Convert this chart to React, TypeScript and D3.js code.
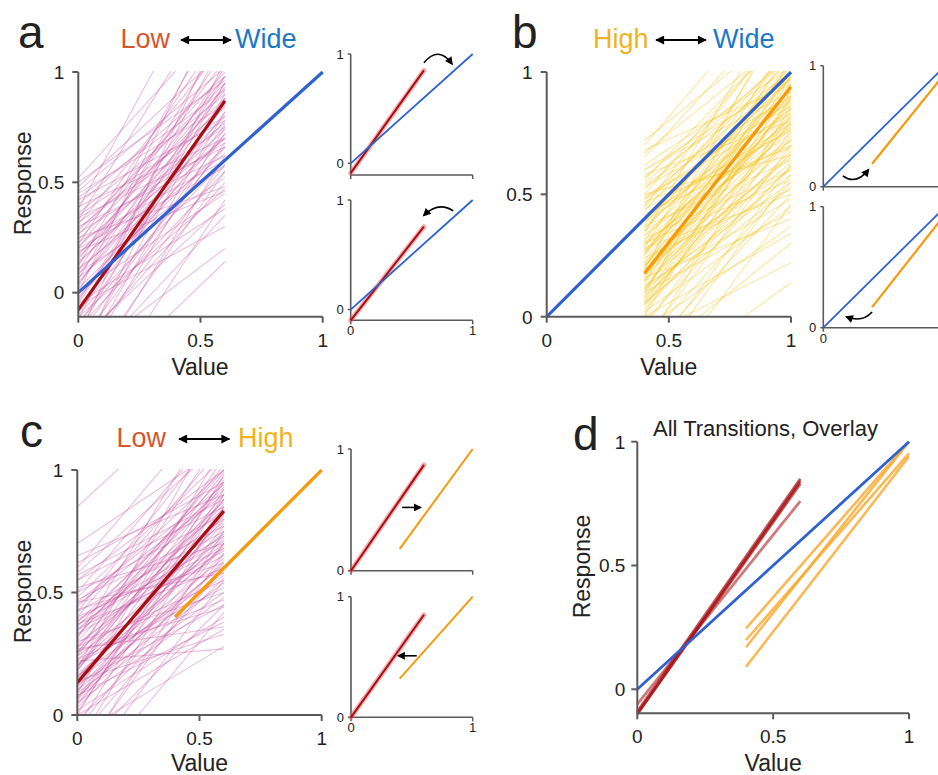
import React from "react";
import * as d3 from "d3";

type Seg = [number, number];

// ---------- data ----------
const MAIN_TICKS = [0, 0.5, 1];
const INSET_TICKS = [0, 1];
const LOW_RANGE: Seg = [0, 0.6];
const HIGH_RANGE: Seg = [0.4, 1];
const WIDE_RANGE: Seg = [0, 1];

// individual fits (y at range start, y at range end)
const lowLinesA: Seg[] = [
  [-0.05, 0.95], [0.10, 1.10], [0.52, 1.25], [0.30, 0.62], [-0.20, 0.72], [0.05, 0.78], [0.15, 0.98], [-0.10, 0.60],
  [0.22, 1.20], [-0.30, 1.05], [0.40, 0.98], [0.00, 0.45], [-0.15, 0.88], [0.18, 0.70], [0.33, 1.40], [-0.25, 0.50],
  [0.08, 0.92], [0.45, 0.85], [-0.05, 0.38], [0.12, 1.30], [0.28, 0.95], [-0.18, 0.95], [0.02, 0.66], [0.35, 0.80],
  [-0.12, 1.15], [0.20, 0.57], [0.48, 1.10], [-0.35, 0.75], [-0.50, 0.14], [-0.30, 0.20], [0.25, 0.48], [-0.08, 0.82],
  [0.14, 0.74], [-0.22, 0.40], [0.38, 1.60], [0.03, 1.02], [-0.40, 0.55], [0.16, 0.86], [0.27, 0.68], [-0.02, 0.72],
  [0.09, 0.52], [-0.28, 0.90], [0.43, 0.92], [0.20, 1.05], [-0.06, 0.30], [0.32, 0.75], [-0.14, 0.66], [0.06, 1.18],
  [0.24, 0.88], [-0.45, 0.62], [0.11, 0.63], [0.36, 0.90], [-0.03, 0.85], [0.19, 0.46], [-0.32, 0.82], [0.42, 0.78],
  [0.00, 1.35], [0.26, 1.00], [-0.16, 0.55], [0.13, 0.80], [0.50, 0.96], [-0.60, 0.42], [0.07, 0.58], [0.31, 1.12],
  [-0.09, 0.76], [0.17, 0.93], [-0.24, 0.68], [0.39, 0.70], [0.04, 0.88], [-0.20, 1.25], [0.23, 0.60], [-0.11, 0.47],
  [0.29, 0.84], [-0.36, 0.35], [0.10, 0.70], [0.46, 1.02], [-0.04, 0.98], [0.21, 0.77], [-0.27, 0.58], [0.34, 0.66],
];

const highLinesB: Seg[] = [
  [0.18, 0.94], [0.35, 1.10], [0.05, 0.80], [0.50, 1.20], [-0.10, 0.70], [0.25, 0.98], [0.70, 1.40], [0.10, 1.05], [0.40, 0.85], [0.20, 1.15],
  [-0.20, 0.62], [0.30, 0.75], [0.55, 1.00], [0.12, 0.55], [0.65, 1.30], [0.15, 0.88], [0.00, 0.95], [0.45, 0.92], [0.28, 1.25], [0.08, 0.68],
  [0.60, 0.97], [0.02, 0.45], [0.38, 1.02], [0.22, 0.72], [-0.15, 0.50], [0.48, 0.88], [0.14, 1.00], [0.67, 1.15], [0.32, 0.60], [0.06, 0.90],
  [0.52, 1.08], [0.17, 0.65], [-0.25, 0.58], [0.36, 0.93], [0.24, 0.52], [0.04, 0.82], [0.58, 0.80], [0.19, 1.30], [0.42, 0.70], [-0.05, 0.37],
  [0.11, 0.92], [0.29, 0.81], [0.46, 1.05], [0.07, 0.73], [0.62, 1.02], [0.21, 0.60], [-0.12, 0.86], [0.33, 0.90], [0.16, 0.40], [0.44, 0.76],
  [0.09, 1.12], [0.26, 0.84], [0.56, 1.18], [0.18, 0.70], [-0.02, 0.62], [0.39, 0.98], [0.27, 0.78], [0.50, 0.66], [0.01, 0.99], [0.34, 1.35],
  [0.13, 0.48], [0.53, 0.86], [0.23, 0.96], [-0.30, 0.14], [0.41, 0.79], [0.10, 0.43], [0.31, 1.04], [0.68, 0.95], [0.17, 0.87], [0.47, 0.69],
  [0.03, 0.67], [0.37, 0.89], [-0.08, 0.22], [0.57, 1.06], [0.12, 0.79], [-0.04, 0.76], [0.30, 0.56], [0.20, 1.00], [0.49, 0.83], [0.14, 0.63],
  [0.27, 0.91], [0.72, 1.20], [0.06, 0.53], [0.40, 0.97], [0.18, 0.74], [-0.35, 0.46], [0.30, 0.85], [0.45, 1.22], [0.11, 0.58], [0.35, 0.72],
  [0.22, 0.82], [0.60, 0.92], [0.00, 0.34], [0.26, 1.03], [0.15, 0.66], [0.39, 0.77], [0.48, 0.99], [0.08, 0.89], [0.28, 0.50], [0.21, 0.77],
  [-0.18, 0.30], [0.43, 1.10], [0.16, 0.95], [0.54, 0.90], [0.05, 0.61], [0.33, 0.79], [0.25, 1.08], [-0.10, 0.55], [0.37, 0.64], [0.19, 0.83],
];

const lowLinesC: Seg[] = [
  [0.13, 0.83], [0.30, 0.95], [0.05, 0.70], [0.40, 1.10], [-0.10, 0.60], [0.22, 0.88], [0.50, 1.20], [0.00, 0.98], [0.35, 0.65], [0.18, 1.05],
  [-0.20, 0.75], [0.28, 0.55], [0.45, 0.90], [0.08, 0.50], [0.60, 1.30], [0.15, 0.72], [-0.05, 0.90], [0.38, 0.80], [0.25, 1.15], [0.10, 0.62],
  [0.55, 0.85], [0.02, 0.40], [0.32, 1.00], [0.20, 0.68], [-0.15, 0.45], [0.42, 0.75], [0.12, 0.95], [0.85, 1.40], [0.27, 0.36], [0.06, 0.82],
  [0.48, 1.05], [0.16, 0.58], [-0.25, 0.55], [0.34, 0.92], [0.23, 0.47], [0.04, 0.77], [0.52, 0.70], [0.19, 1.25], [0.37, 0.60], [-0.08, 0.28],
  [0.11, 0.88], [0.29, 0.74], [0.44, 1.00], [0.07, 0.66], [0.62, 0.95], [0.21, 0.52], [-0.12, 0.85], [0.33, 0.87], [0.14, 0.33], [0.40, 0.68],
  [0.09, 1.10], [0.26, 0.79], [0.58, 1.12], [0.17, 0.64], [-0.02, 0.56], [0.36, 0.97], [0.24, 0.70], [0.46, 0.58], [0.01, 0.92], [0.31, 1.30],
  [0.13, 0.45], [0.50, 0.82], [0.20, 0.90], [-0.18, 0.66], [0.39, 0.73], [0.08, 0.38], [0.27, 1.02], [0.65, 0.90], [0.15, 0.80], [0.43, 0.62],
  [0.03, 0.63], [0.35, 0.84], [0.22, 0.27], [0.55, 1.00], [0.10, 0.75], [-0.06, 0.70], [0.30, 0.50], [0.18, 0.96], [0.47, 0.77], [0.12, 0.57],
  [0.25, 0.86], [0.70, 1.10], [0.05, 0.48], [0.38, 0.93], [0.16, 0.69], [-0.30, 0.42], [0.28, 0.81], [0.42, 1.18], [0.09, 0.54], [0.33, 0.67],
  [0.20, 0.78], [0.57, 0.88], [0.00, 0.35], [0.24, 0.99], [0.14, 0.61], [0.37, 0.71], [0.46, 0.94], [0.07, 0.85], [0.26, 0.44], [0.19, 0.73],
];

// average fits
const lowMeanA: Seg = [-0.078, 0.869];
const highMeanB: Seg = [0.177, 0.94];
const lowMeanC: Seg = [0.132, 0.833];
const wideFit: Seg = [0, 1];
const highFitC: Seg = [0.4, 1.0];

// inset fits
const insetA = { top: { low: [-0.09, 0.85] as Seg }, bottom: { low: [-0.098, 0.756] as Seg } };
const insetB = { top: { high: [0.19, 0.94] as Seg }, bottom: { high: [0.17, 0.94] as Seg } };
const insetC = {
  top: { low: [0.0, 0.87] as Seg, high: [0.18, 1.0] as Seg },
  bottom: { low: [0.0, 0.85] as Seg, high: [0.32, 1.0] as Seg },
};

// overlay (panel d)
const overlayLow: Seg[] = [[-0.10, 0.84], [-0.09, 0.85], [-0.06, 0.76], [-0.10, 0.83]];
const overlayLowAlpha = [0.7, 0.7, 0.55, 0.7];
const overlayHigh: Seg[] = [[0.246, 1.0], [0.199, 0.953], [0.17, 1.0], [0.091, 0.94]];

// ---------- styles ----------
const FONT = "'Liberation Sans', Arial, Helvetica, sans-serif";
const C_BLUE = "#2f62cf";
const C_RED = "#a50f12";
const C_ORANGE = "#f59a0c";
const C_PINK = "#c4479f";
const C_YELLOW = "#f4c41c";
const C_AXIS = "#5a5a5a";
const C_LOWTXT = "#d9552b";
const C_WIDETXT = "#1b78c6";
const C_HIGHTXT = "#efb321";
const PAGE_W = 938;

type Box = { xl: number; xr: number; yt: number; yb: number; ymin: number };

function scales(b: Box) {
  const x = d3.scaleLinear().domain([0, 1]).range([b.xl, b.xr]);
  const y = d3.scaleLinear().domain([b.ymin, 1]).range([b.yb, b.yt]);
  return { x, y };
}

function Seg2({ sx, sy, range, seg, ...rest }: any) {
  return <line x1={sx(range[0])} y1={sy(seg[0])} x2={sx(range[1])} y2={sy(seg[1])} {...rest} />;
}

function MainAxes({ b, ticks, fontSize = 19, yOff = 14 }: { b: Box; ticks: number[]; fontSize?: number; yOff?: number }) {
  const { x, y } = scales(b);
  return (
    <g fill="#222" fontFamily={FONT} fontSize={fontSize}>
      <line x1={b.xl} y1={b.yt} x2={b.xl} y2={b.yb} stroke={C_AXIS} strokeWidth={2} />
      <line x1={b.xl} y1={b.yb} x2={b.xr} y2={b.yb} stroke={C_AXIS} strokeWidth={2} />
      {ticks.map((t) => (
        <g key={"y" + t}>
          <line x1={b.xl - 6} x2={b.xl} y1={y(t)} y2={y(t)} stroke={C_AXIS} strokeWidth={2} />
          <text x={b.xl - yOff} y={y(t)} dy="0.36em" textAnchor="end">{d3.format("~g")(t)}</text>
        </g>
      ))}
      {ticks.map((t) => (
        <g key={"x" + t}>
          <line x1={x(t)} x2={x(t)} y1={b.yb} y2={b.yb + 6} stroke={C_AXIS} strokeWidth={2} />
          <text x={x(t)} y={b.yb + 30} textAnchor="middle">{d3.format("~g")(t)}</text>
        </g>
      ))}
    </g>
  );
}

function InsetAxes({ b, showX }: { b: Box; showX: boolean }) {
  const { x, y } = scales(b);
  return (
    <g fill="#222" fontFamily={FONT} fontSize={13}>
      <line x1={b.xl} y1={b.yt} x2={b.xl} y2={b.yb} stroke={C_AXIS} strokeWidth={1.6} />
      <line x1={b.xl} y1={b.yb} x2={b.xr} y2={b.yb} stroke={C_AXIS} strokeWidth={1.6} />
      {INSET_TICKS.map((t) => (
        <g key={"y" + t}>
          <line x1={b.xl - 3} x2={b.xl} y1={y(t)} y2={y(t)} stroke={C_AXIS} strokeWidth={1.5} />
          <text x={b.xl - 7} y={y(t)} dy="0.36em" textAnchor="end">{t}</text>
        </g>
      ))}
      {INSET_TICKS.map((t) => (
        <g key={"x" + t}>
          <line x1={x(t)} x2={x(t)} y1={b.yb} y2={b.yb + 4} stroke={C_AXIS} strokeWidth={1.5} />
          {showX && x(t) < PAGE_W - 4 && <text x={x(t)} y={b.yb + 15} textAnchor="middle">{t}</text>}
        </g>
      ))}
    </g>
  );
}

function Title({ x, y, parts }: { x: number[]; y: number; parts: { text: string; color: string }[] }) {
  return (
    <g fontFamily={FONT} fontSize={27}>
      <text x={x[0]} y={y} fill={parts[0].color}>{parts[0].text}</text>
      <line x1={x[1]} x2={x[2]} y1={y - 8} y2={y - 8} stroke="#000" strokeWidth={2} markerStart="url(#ahBig)" markerEnd="url(#ahBig)" />
      <text x={x[3]} y={y} fill={parts[1].color}>{parts[1].text}</text>
    </g>
  );
}

function CurvedArrow({ sx, sy, pts }: any) {
  const [p0, c, p1] = pts;
  const d = `M${sx(p0[0])},${sy(p0[1])} Q${sx(c[0])},${sy(c[1])} ${sx(p1[0])},${sy(p1[1])}`;
  return <path d={d} fill="none" stroke="#000" strokeWidth={1.6} markerEnd="url(#ahSmall)" />;
}

// ---------- layout boxes ----------
const boxA: Box = { xl: 78.3, xr: 322.7, yt: 72, yb: 316.7, ymin: -0.109 };
const boxB: Box = { xl: 546.7, xr: 791, yt: 72, yb: 316.7, ymin: 0 };
const boxC: Box = { xl: 77.3, xr: 321.7, yt: 470, yb: 715, ymin: 0 };
const boxD: Box = { xl: 637.3, xr: 909, yt: 441.7, yb: 713.3, ymin: -0.097 };
const boxA1: Box = { xl: 350.7, xr: 472.7, yt: 54, yb: 175, ymin: -0.107 };
const boxA2: Box = { xl: 350.7, xr: 472.7, yt: 200, yb: 320.3, ymin: -0.098 };
const boxB1: Box = { xl: 823.3, xr: 945.3, yt: 65.7, yb: 186.7, ymin: 0 };
const boxB2: Box = { xl: 823.3, xr: 945.3, yt: 206.7, yb: 327.7, ymin: 0 };
const boxC1: Box = { xl: 351, xr: 472.7, yt: 449, yb: 570.7, ymin: 0 };
const boxC2: Box = { xl: 351, xr: 472.7, yt: 596.7, yb: 717.3, ymin: 0 };

function ClipRect({ id, b }: { id: string; b: Box }) {
  return (
    <clipPath id={id}>
      <rect x={b.xl} y={b.yt - 1} width={b.xr - b.xl + 2} height={b.yb - b.yt + 1} />
    </clipPath>
  );
}

function LowBand({ sx, sy, seg }: any) {
  return (
    <g>
      <Seg2 sx={sx} sy={sy} range={LOW_RANGE} seg={seg} stroke="#e8505a" strokeOpacity={0.45} strokeWidth={5} strokeLinecap="round" />
      <Seg2 sx={sx} sy={sy} range={LOW_RANGE} seg={seg} stroke={C_RED} strokeWidth={2} />
    </g>
  );
}

const LABEL_SIZE = 23;

export default function App() {
  const A = scales(boxA), B = scales(boxB), C = scales(boxC), D = scales(boxD);
  const A1 = scales(boxA1), A2 = scales(boxA2), B1 = scales(boxB1), B2 = scales(boxB2), C1 = scales(boxC1), C2 = scales(boxC2);

  return (
    <svg width={938} height={775} style={{ position: "absolute", left: 0, top: 0, background: "#fff" }} xmlns="http://www.w3.org/2000/svg">
      <defs>
        <marker id="ahBig" viewBox="0 0 10 10" refX="9" refY="5" markerWidth="10" markerHeight="9" markerUnits="userSpaceOnUse" orient="auto-start-reverse">
          <path d="M0,0 L10,5 L0,10 z" fill="#000" />
        </marker>
        <marker id="ahSmall" viewBox="0 0 10 10" refX="8" refY="5" markerWidth="9" markerHeight="8" markerUnits="userSpaceOnUse" orient="auto">
          <path d="M0,0 L10,5 L0,10 z" fill="#000" />
        </marker>
        <ClipRect id="clipA" b={boxA} />
        <ClipRect id="clipB" b={boxB} />
        <ClipRect id="clipC" b={boxC} />
      </defs>

      {/* ---------- panel a ---------- */}
      <text x={18} y={48} fontFamily={FONT} fontSize={46} fill="#222">a</text>
      <Title x={[120.5, 181, 231, 235]} y={48} parts={[{ text: "Low", color: C_LOWTXT }, { text: "Wide", color: C_WIDETXT }]} />
      <g clipPath="url(#clipA)">
        {lowLinesA.map((s, i) => (
          <Seg2 key={i} sx={A.x} sy={A.y} range={LOW_RANGE} seg={s} stroke={C_PINK} strokeOpacity={0.35} strokeWidth={1.1} />
        ))}
        <Seg2 sx={A.x} sy={A.y} range={LOW_RANGE} seg={lowMeanA} stroke={C_RED} strokeWidth={3.2} />
        <Seg2 sx={A.x} sy={A.y} range={WIDE_RANGE} seg={wideFit} stroke={C_BLUE} strokeWidth={3.2} />
      </g>
      <MainAxes b={boxA} ticks={MAIN_TICKS} />
      <text transform={`translate(31,${(boxA.yt + boxA.yb) / 2 - 11}) rotate(-90)`} textAnchor="middle" fontFamily={FONT} fontSize={LABEL_SIZE} fill="#222">Response</text>
      <text x={(boxA.xl + boxA.xr) / 2 - 0.5} y={375} textAnchor="middle" fontFamily={FONT} fontSize={LABEL_SIZE} fill="#222">Value</text>

      {/* insets a */}
      <InsetAxes b={boxA1} showX={false} />
      <LowBand sx={A1.x} sy={A1.y} seg={insetA.top.low} />
      <Seg2 sx={A1.x} sy={A1.y} range={WIDE_RANGE} seg={wideFit} stroke={C_BLUE} strokeWidth={1.8} />
      <CurvedArrow sx={A1.x} sy={A1.y} pts={[[0.6, 0.92], [0.72, 1.08], [0.83, 0.91]]} />
      <InsetAxes b={boxA2} showX={true} />
      <LowBand sx={A2.x} sy={A2.y} seg={insetA.bottom.low} />
      <Seg2 sx={A2.x} sy={A2.y} range={WIDE_RANGE} seg={wideFit} stroke={C_BLUE} strokeWidth={1.8} />
      <CurvedArrow sx={A2.x} sy={A2.y} pts={[[0.84, 0.9], [0.72, 0.99], [0.6, 0.86]]} />

      {/* ---------- panel b ---------- */}
      <text x={512} y={48} fontFamily={FONT} fontSize={46} fill="#222">b</text>
      <Title x={[593, 656, 706, 713]} y={48} parts={[{ text: "High", color: C_HIGHTXT }, { text: "Wide", color: C_WIDETXT }]} />
      <g clipPath="url(#clipB)">
        {highLinesB.map((s, i) => (
          <Seg2 key={i} sx={B.x} sy={B.y} range={HIGH_RANGE} seg={s} stroke={C_YELLOW} strokeOpacity={0.4} strokeWidth={1.1} />
        ))}
        <Seg2 sx={B.x} sy={B.y} range={HIGH_RANGE} seg={highMeanB} stroke={C_ORANGE} strokeWidth={3.2} />
        <Seg2 sx={B.x} sy={B.y} range={WIDE_RANGE} seg={wideFit} stroke={C_BLUE} strokeWidth={3.2} />
      </g>
      <MainAxes b={boxB} ticks={MAIN_TICKS} />
      <text x={(boxB.xl + boxB.xr) / 2} y={375} textAnchor="middle" fontFamily={FONT} fontSize={LABEL_SIZE} fill="#222">Value</text>

      {/* insets b */}
      <InsetAxes b={boxB1} showX={false} />
      <Seg2 sx={B1.x} sy={B1.y} range={WIDE_RANGE} seg={wideFit} stroke={C_BLUE} strokeWidth={1.8} />
      <Seg2 sx={B1.x} sy={B1.y} range={HIGH_RANGE} seg={insetB.top.high} stroke={C_ORANGE} strokeWidth={2.2} />
      <CurvedArrow sx={B1.x} sy={B1.y} pts={[[0.16, 0.09], [0.27, 0.01], [0.37, 0.14]]} />
      <InsetAxes b={boxB2} showX={true} />
      <Seg2 sx={B2.x} sy={B2.y} range={WIDE_RANGE} seg={wideFit} stroke={C_BLUE} strokeWidth={1.8} />
      <Seg2 sx={B2.x} sy={B2.y} range={HIGH_RANGE} seg={insetB.bottom.high} stroke={C_ORANGE} strokeWidth={2.2} />
      <CurvedArrow sx={B2.x} sy={B2.y} pts={[[0.4, 0.13], [0.32, 0.04], [0.19, 0.09]]} />

      {/* ---------- panel c ---------- */}
      <text x={20} y={447} fontFamily={FONT} fontSize={46} fill="#222">c</text>
      <Title x={[116.5, 179, 229.5, 238]} y={447} parts={[{ text: "Low", color: C_LOWTXT }, { text: "High", color: C_HIGHTXT }]} />
      <g clipPath="url(#clipC)">
        {lowLinesC.map((s, i) => (
          <Seg2 key={i} sx={C.x} sy={C.y} range={LOW_RANGE} seg={s} stroke={C_PINK} strokeOpacity={0.35} strokeWidth={1.1} />
        ))}
        <Seg2 sx={C.x} sy={C.y} range={LOW_RANGE} seg={lowMeanC} stroke={C_RED} strokeWidth={3.2} />
        <Seg2 sx={C.x} sy={C.y} range={HIGH_RANGE} seg={highFitC} stroke={C_ORANGE} strokeWidth={3.2} />
      </g>
      <MainAxes b={boxC} ticks={MAIN_TICKS} />
      <text transform={`translate(31,${(boxC.yt + boxC.yb) / 2 - 1}) rotate(-90)`} textAnchor="middle" fontFamily={FONT} fontSize={LABEL_SIZE} fill="#222">Response</text>
      <text x={(boxC.xl + boxC.xr) / 2} y={771} textAnchor="middle" fontFamily={FONT} fontSize={LABEL_SIZE} fill="#222">Value</text>

      {/* insets c */}
      <InsetAxes b={boxC1} showX={false} />
      <LowBand sx={C1.x} sy={C1.y} seg={insetC.top.low} />
      <Seg2 sx={C1.x} sy={C1.y} range={HIGH_RANGE} seg={insetC.top.high} stroke={C_ORANGE} strokeWidth={2} />
      <line x1={C1.x(0.42)} x2={C1.x(0.57)} y1={C1.y(0.52)} y2={C1.y(0.52)} stroke="#000" strokeWidth={1.6} markerEnd="url(#ahSmall)" />
      <InsetAxes b={boxC2} showX={true} />
      <LowBand sx={C2.x} sy={C2.y} seg={insetC.bottom.low} />
      <Seg2 sx={C2.x} sy={C2.y} range={HIGH_RANGE} seg={insetC.bottom.high} stroke={C_ORANGE} strokeWidth={2} />
      <line x1={C2.x(0.54)} x2={C2.x(0.39)} y1={C2.y(0.51)} y2={C2.y(0.51)} stroke="#000" strokeWidth={1.6} markerEnd="url(#ahSmall)" />

      {/* ---------- panel d ---------- */}
      <text x={573} y={450} fontFamily={FONT} fontSize={46} fill="#222">d</text>
      <text x={653} y={436} fontFamily={FONT} fontSize={22} fill="#222">All Transitions, Overlay</text>
      <g>
        {overlayHigh.map((s, i) => (
          <Seg2 key={"h" + i} sx={D.x} sy={D.y} range={HIGH_RANGE} seg={s} stroke="#f9a82a" strokeOpacity={0.8} strokeWidth={2.6} />
        ))}
        {overlayLow.map((s, i) => (
          <Seg2 key={"l" + i} sx={D.x} sy={D.y} range={LOW_RANGE} seg={s} stroke={C_RED} strokeOpacity={overlayLowAlpha[i]} strokeWidth={2.8} />
        ))}
        <Seg2 sx={D.x} sy={D.y} range={WIDE_RANGE} seg={wideFit} stroke={C_BLUE} strokeWidth={2.8} />
      </g>
      <MainAxes b={boxD} ticks={MAIN_TICKS} yOff={12} />
      <text transform={`translate(590,${(boxD.yt + boxD.yb) / 2 - 11}) rotate(-90)`} textAnchor="middle" fontFamily={FONT} fontSize={LABEL_SIZE} fill="#222">Response</text>
      <text x={(boxD.xl + boxD.xr) / 2} y={771} textAnchor="middle" fontFamily={FONT} fontSize={LABEL_SIZE} fill="#222">Value</text>
    </svg>
  );
}
